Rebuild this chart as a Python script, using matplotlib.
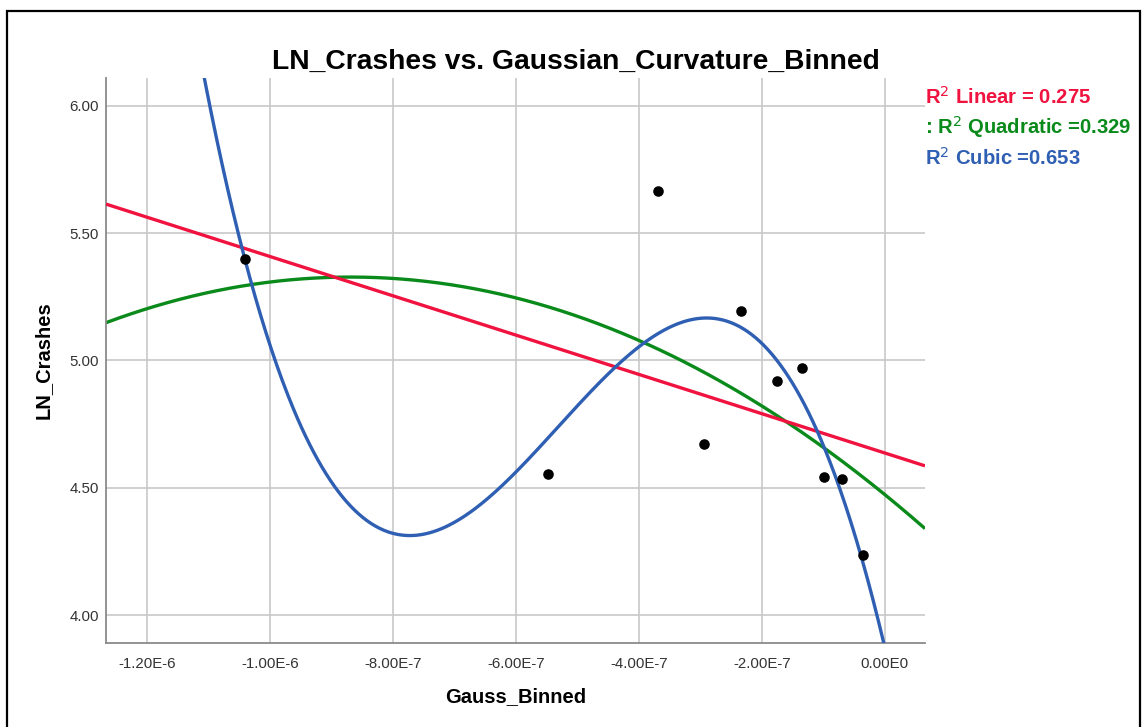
import numpy as np
import matplotlib
matplotlib.use("Agg")
import matplotlib.pyplot as plt
from matplotlib.patches import Rectangle

plt.rcParams['font.family'] = ['Liberation Sans', 'DejaVu Sans']

# Data
gauss_binned = [-1.0397e-6, -0.547e-6, -0.369e-6, -0.2933e-6, -0.2341e-6,
                -0.1751e-6, -0.135e-6, -0.0992e-6, -0.0694e-6, -0.0358e-6]
ln_crashes = [5.398, 4.553, 5.664, 4.673, 5.194, 4.920, 4.969, 4.543, 4.534, 4.235]

xtick_vals = [-1.2e-6, -1.0e-6, -8.0e-7, -6.0e-7, -4.0e-7, -2.0e-7, 0.0]
xtick_labels = ["-1.20E-6", "-1.00E-6", "-8.00E-7", "-6.00E-7", "-4.00E-7", "-2.00E-7", "0.00E0"]
ytick_vals = [4.0, 4.5, 5.0, 5.5, 6.0]
ytick_labels = ["4.00", "4.50", "5.00", "5.50", "6.00"]

fit_names = ["Linear", "Quadratic", "Cubic"]
fit_degrees = [1, 2, 3]
fit_r2_text = [r"R$^2$ Linear = 0.275", r": R$^2$ Quadratic =0.329", r"R$^2$ Cubic =0.653"]
fit_colors = ["#f0123f", "#0a8a1a", "#2f5fb3"]

W, H = 1146, 727
fig = plt.figure(figsize=(W / 100, H / 100), dpi=100)

x0, x1 = 106, 925
y0, y1 = 78, 643
ax = fig.add_axes([x0 / W, 1 - y1 / H, (x1 - x0) / W, (y1 - y0) / H])

xlim = (-1.2662e-6, 0.0655e-6)
ylim = (3.891, 6.109)
ax.set_xlim(*xlim)
ax.set_ylim(*ylim)

x = np.array(gauss_binned)
y = np.array(ln_crashes)
xs = np.linspace(xlim[0], xlim[1], 600)
xscale = 1e6
for deg, col, z in zip(fit_degrees, fit_colors, [3, 2, 4]):
    coef = np.polyfit(x * xscale, y, deg)
    ax.plot(xs, np.polyval(coef, xs * xscale), color=col, lw=2.4, zorder=z,
            solid_capstyle='butt')

ax.scatter(x, y, s=58, color='black', zorder=5, linewidths=0)

ax.set_xticks(xtick_vals)
ax.set_xticklabels(xtick_labels)
ax.set_yticks(ytick_vals)
ax.set_yticklabels(ytick_labels)
ax.tick_params(axis='both', length=0, labelsize=10.8, labelcolor='#333333')
ax.tick_params(axis='x', pad=10)
ax.tick_params(axis='y', pad=5)

ax.grid(True, color='#c8c8c8', lw=1.2)
ax.set_axisbelow(True)
for s in ['top', 'right']:
    ax.spines[s].set_visible(False)
for s in ['left', 'bottom']:
    ax.spines[s].set_color('#8a8a8a')
    ax.spines[s].set_linewidth(1.3)

ax.set_xlabel("Gauss_Binned", fontsize=14.5, fontweight='bold', labelpad=12)
ax.set_ylabel("LN_Crashes", fontsize=14.5, fontweight='bold', labelpad=12)

fig.text(576 / W, 1 - 62 / H, "LN_Crashes vs. Gaussian_Curvature_Binned",
         fontsize=20.3, fontweight='bold', ha='center', va='center')

for i, (txt, col) in enumerate(zip(fit_r2_text, fit_colors)):
    fig.text(925 / W, 1 - (97 + 30.5 * i) / H, txt, color=col, fontsize=14.6,
             fontweight='bold', ha='left', va='center')

fig.add_artist(Rectangle((7 / W, -0.05), (1140 - 7) / W, (1 - 11 / H) + 0.05,
                         transform=fig.transFigure, fill=False, ec='black',
                         lw=1.6, clip_on=False))

fig.savefig("out.png", dpi=100)
